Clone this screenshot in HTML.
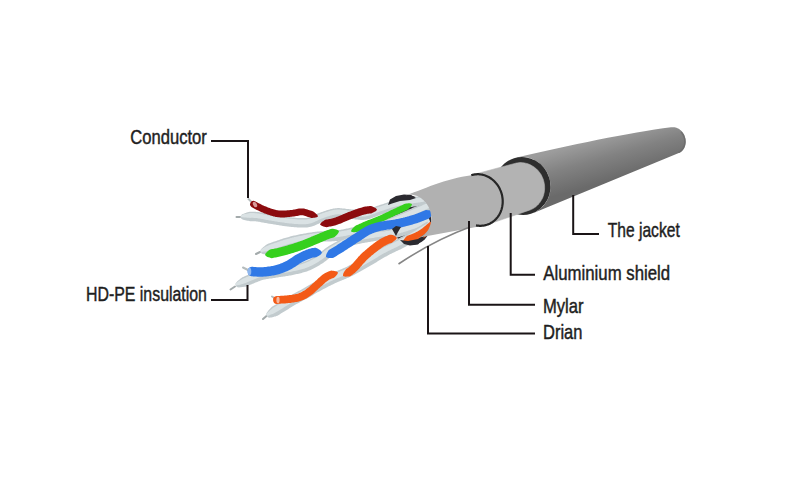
<!DOCTYPE html>
<html><head><meta charset="utf-8">
<style>
html,body{margin:0;padding:0;background:#fff;width:800px;height:480px;overflow:hidden}
svg{display:block}
text{font-family:"Liberation Sans",sans-serif;font-size:20px;fill:#1e1e1e}
</style></head><body>
<svg width="800" height="480" viewBox="0 0 800 480">
<defs>
<linearGradient id="jk" gradientUnits="userSpaceOnUse" x1="600" y1="138" x2="612" y2="180">
<stop offset="0" stop-color="#9c9c9c"/><stop offset="0.45" stop-color="#828282"/><stop offset="1" stop-color="#6a6a6a"/>
</linearGradient>
</defs>
<rect width="800" height="480" fill="#fff"/>
<path d="M516.7,157.6 C568.0,145.5 630.0,132.5 671.0,127.3 L671.0,127.3 L671.6,127.2 L672.2,127.2 L672.8,127.2 L673.4,127.2 L674.0,127.2 L674.6,127.3 L675.2,127.4 L675.8,127.6 L676.4,127.7 L677.0,127.9 L677.5,128.2 L678.1,128.5 L678.7,128.8 L679.2,129.1 L679.7,129.5 L680.2,129.9 L680.7,130.3 L681.2,130.8 L681.7,131.3 L682.1,131.8 L682.5,132.3 L682.9,132.9 L683.3,133.4 L683.7,134.0 L684.0,134.6 L684.3,135.3 L684.6,135.9 L684.8,136.5 L685.0,137.2 L685.2,137.9 L685.4,138.5 L685.5,139.2 L685.6,139.9 L685.6,140.6 L685.7,141.3 L685.7,141.9 L685.7,142.6 L685.6,143.3 L685.5,144.0 L685.4,144.6 L685.2,145.3 L685.1,145.9 L684.9,146.5 L684.6,147.1 L684.4,147.7 L684.1,148.3 L683.8,148.8 L683.4,149.3 L683.0,149.8 L682.7,150.3 L682.2,150.8 L681.8,151.2 L681.4,151.6 L680.9,151.9 L680.4,152.3 L679.9,152.6 L679.3,152.9 L678.8,153.1 L533.4,212.9 L533.4,212.9 L534.7,212.3 L535.9,211.7 L537.2,211.0 L538.4,210.2 L539.5,209.3 L540.6,208.4 L541.7,207.5 L542.7,206.5 L543.7,205.4 L544.6,204.3 L545.5,203.1 L546.2,201.9 L547.0,200.7 L547.6,199.4 L548.3,198.1 L548.8,196.7 L549.3,195.3 L549.7,193.9 L550.0,192.5 L550.2,191.1 L550.4,189.6 L550.5,188.1 L550.6,186.7 L550.6,185.2 L550.5,183.7 L550.3,182.3 L550.0,180.8 L549.7,179.4 L549.3,177.9 L548.9,176.5 L548.3,175.2 L547.7,173.8 L547.1,172.5 L546.4,171.2 L545.6,170.0 L544.7,168.8 L543.8,167.6 L542.9,166.5 L541.8,165.4 L540.8,164.4 L539.7,163.5 L538.5,162.6 L537.3,161.7 L536.1,161.0 L534.8,160.3 L533.5,159.6 L532.2,159.1 L530.9,158.6 L529.5,158.1 L528.1,157.8 L526.7,157.5 L525.3,157.3 L523.8,157.1 L522.4,157.1 L521.0,157.1 L519.5,157.2 L518.1,157.4 L516.7,157.6 Z" fill="url(#jk)"/>
<path d="M681.2,131.9 L681.6,132.4 L682.0,132.9 L682.3,133.4 L682.7,133.9 L683.0,134.5 L683.3,135.0 L683.6,135.6 L683.8,136.2 L684.0,136.8 L684.2,137.4 L684.4,138.0 L684.6,138.7 L684.7,139.3 L684.8,139.9 L684.8,140.6 L684.9,141.2 L684.9,141.8 L684.9,142.5 L684.8,143.1 L684.7,143.7 L684.6,144.3 L684.5,144.9 L684.3,145.5 L684.2,146.1 L683.9,146.7 L683.7,147.2 L683.4,147.8 L683.1,148.3 L682.8,148.8 L682.5,149.3 L682.1,149.7 L681.7,150.1 L681.3,150.5 L680.9,150.9 L680.5,151.3 L680.0,151.6 L679.5,151.9 L679.0,152.1 L678.5,152.4" fill="none" stroke="#6a6a6a" stroke-width="1.6" opacity="0.7"/>
<ellipse cx="522.5" cy="186" rx="28" ry="29" transform="rotate(-17 522.5 186)" fill="#2e2e2e"/>
<path d="M472.1,174.9 L515.0,163.4 L515.0,163.4 L516.2,163.1 L517.3,162.9 L518.5,162.7 L519.7,162.6 L520.9,162.6 L522.1,162.7 L523.3,162.8 L524.4,162.9 L525.6,163.2 L526.8,163.5 L527.9,163.8 L529.0,164.3 L530.2,164.7 L531.2,165.3 L532.3,165.9 L533.3,166.5 L534.3,167.2 L535.3,168.0 L536.3,168.8 L537.1,169.6 L538.0,170.5 L538.8,171.5 L539.6,172.5 L540.3,173.5 L541.0,174.5 L541.6,175.6 L542.1,176.8 L542.6,177.9 L543.1,179.1 L543.5,180.3 L543.8,181.5 L544.1,182.7 L544.3,183.9 L544.5,185.2 L544.6,186.4 L544.6,187.7 L544.6,188.9 L544.5,190.2 L544.4,191.4 L544.2,192.6 L543.9,193.8 L543.6,195.0 L543.2,196.2 L542.8,197.4 L542.3,198.5 L541.7,199.6 L541.1,200.6 L540.5,201.6 L539.8,202.6 L539.0,203.6 L538.2,204.4 L537.4,205.3 L536.5,206.1 L535.6,206.9 L534.6,207.6 L533.6,208.2 L532.6,208.8 L531.5,209.3 L530.5,209.8 L529.4,210.2 L487.3,224.6 L487.3,224.6 L488.4,224.2 L489.5,223.7 L490.6,223.2 L491.6,222.6 L492.7,221.9 L493.6,221.2 L494.6,220.4 L495.5,219.5 L496.3,218.7 L497.1,217.7 L497.9,216.7 L498.6,215.7 L499.3,214.6 L499.9,213.5 L500.4,212.4 L500.9,211.2 L501.4,210.0 L501.7,208.8 L502.1,207.5 L502.3,206.2 L502.5,204.9 L502.6,203.6 L502.7,202.3 L502.7,201.0 L502.7,199.7 L502.6,198.3 L502.4,197.0 L502.1,195.7 L501.8,194.4 L501.5,193.1 L501.1,191.9 L500.6,190.6 L500.0,189.4 L499.4,188.2 L498.8,187.0 L498.1,185.9 L497.4,184.8 L496.6,183.8 L495.7,182.8 L494.8,181.8 L493.9,180.9 L492.9,180.0 L491.9,179.2 L490.9,178.5 L489.8,177.8 L488.7,177.1 L487.6,176.5 L486.5,176.0 L485.3,175.6 L484.1,175.2 L482.9,174.8 L481.7,174.6 L480.5,174.4 L479.3,174.3 L478.1,174.2 L476.9,174.2 L475.6,174.3 L474.4,174.4 L473.3,174.7 L472.1,174.9 Z" fill="#b3b3b3" stroke="#b3b3b3" stroke-width="0.6"/>
<ellipse cx="410" cy="220" rx="21" ry="25" transform="rotate(-17 410 220)" fill="#2b2a30"/>
<path d="M236.5,217.0 L240.0,217.0" stroke="#a3aaab" stroke-width="2" stroke-linecap="round" fill="none"/>
<path d="M241.1,218.4 242.1,219.3 243.2,219.7 244.2,220.0 245.2,220.2 246.3,220.5 247.3,220.7 248.3,220.8 249.2,221.0 250.2,221.2 251.1,221.2 252.0,221.2 252.9,221.2 253.8,221.2 254.7,221.2 255.6,221.3 256.4,221.4 257.3,221.5 258.3,221.7 259.2,221.8 260.1,222.0 261.1,222.2 262.0,222.4 263.0,222.5 264.0,222.7 265.0,222.9 266.0,223.1 267.0,223.3 268.0,223.5 269.1,223.7 270.1,223.8 271.0,224.0 272.0,224.1 273.0,224.3 274.0,224.5 275.0,224.6 276.0,224.8 277.0,225.0 278.0,225.1 279.0,225.3 280.0,225.5 281.0,225.6 282.0,225.8 283.0,225.9 284.0,226.1 285.0,226.2 286.1,226.3 287.1,226.5 288.1,226.6 289.2,226.7 290.2,226.8 291.2,226.9 292.2,227.0 293.2,227.1 294.2,227.2 295.2,227.3 296.3,227.3 297.3,227.4 298.3,227.5 299.4,227.5 300.5,227.6 301.5,227.6 302.6,227.6 303.7,227.6 304.9,227.6 306.0,227.5 307.1,227.4 308.3,227.2 309.5,227.0 310.7,226.8 311.9,226.5 313.1,226.1 314.2,225.7 315.2,225.3 316.3,224.8 317.2,224.3 318.2,223.9 319.1,223.4 320.0,223.0 320.8,222.6 321.6,222.2 322.4,221.9 323.2,221.6 324.1,221.3 325.0,221.0 326.0,220.6 326.9,220.3 327.9,220.0 328.8,219.7 329.7,219.4 330.6,219.1 331.5,218.8 332.3,218.6 333.2,218.3 334.0,218.1 334.9,218.0 335.7,217.8 336.5,217.7 337.3,217.7 338.1,217.6 338.9,217.6 339.8,217.7 340.6,217.7 341.5,217.8 342.5,217.9 343.4,218.0 344.4,218.2 345.4,218.3 346.4,218.4 347.5,218.5 348.5,218.6 349.6,218.7 350.5,218.8 351.4,218.9 352.4,219.0 353.3,219.1 354.3,219.3 355.3,219.4 356.4,219.5 357.4,219.6 358.5,219.8 359.6,219.8 360.8,219.9 361.9,219.9 363.1,219.9 364.3,219.8 365.5,219.7 366.8,219.5 367.9,219.3 369.1,219.0 370.2,218.7 371.3,218.3 372.3,218.0 373.3,217.6 374.3,217.2 375.3,216.8 376.2,216.5 377.1,216.1 378.1,215.7 378.9,215.4 379.8,215.1 380.7,214.8 381.6,214.5 382.5,214.2 383.5,213.8 384.5,213.5 385.5,213.2 386.4,212.9 387.3,212.5 388.3,212.2 389.2,211.9 390.1,211.6 391.0,211.3 392.0,211.0 392.9,210.7 393.8,210.5 394.7,210.2 395.6,210.0 396.5,209.7 397.5,209.5 398.4,209.3 399.3,209.1 400.3,208.9 401.2,208.7 402.2,208.5 403.1,208.3 404.1,208.1 405.0,208.0 406.0,207.8 407.0,207.6 407.9,207.5 408.9,207.3 409.9,207.2 410.9,207.0 411.9,206.9 412.9,206.7 413.8,206.5 414.8,206.4 415.8,206.2 416.8,206.1 417.8,205.9 418.8,205.8 419.8,205.6 420.8,205.5 421.8,205.3 422.8,205.2 423.8,205.0 424.8,204.8 425.8,204.7 L424.2,195.3 423.2,195.5 422.3,195.6 421.3,195.8 420.3,195.9 419.3,196.1 418.3,196.2 417.4,196.4 416.4,196.6 415.4,196.7 414.4,196.9 413.4,197.0 412.4,197.2 411.4,197.3 410.4,197.5 409.4,197.6 408.4,197.8 407.4,197.9 406.4,198.1 405.4,198.3 404.4,198.4 403.4,198.6 402.4,198.8 401.4,199.0 400.4,199.2 399.3,199.4 398.3,199.6 397.3,199.8 396.3,200.0 395.2,200.3 394.2,200.5 393.2,200.8 392.2,201.1 391.2,201.3 390.2,201.6 389.2,201.9 388.2,202.3 387.2,202.6 386.2,202.9 385.2,203.2 384.3,203.5 383.3,203.9 382.4,204.2 381.4,204.5 380.5,204.8 379.6,205.1 378.6,205.5 377.6,205.8 376.6,206.1 375.6,206.5 374.6,206.9 373.7,207.3 372.7,207.6 371.8,208.0 370.9,208.4 370.0,208.7 369.1,209.0 368.3,209.3 367.5,209.6 366.7,209.8 365.9,210.0 365.1,210.2 364.3,210.3 363.6,210.4 362.8,210.4 361.9,210.4 361.1,210.4 360.2,210.4 359.4,210.3 358.4,210.2 357.5,210.1 356.5,210.0 355.6,209.8 354.6,209.7 353.5,209.6 352.5,209.5 351.4,209.4 350.4,209.3 349.4,209.2 348.5,209.1 347.5,209.0 346.6,208.9 345.6,208.7 344.6,208.6 343.5,208.5 342.5,208.4 341.4,208.3 340.3,208.2 339.1,208.1 337.9,208.1 336.7,208.2 335.5,208.3 334.3,208.4 333.2,208.6 332.0,208.9 330.9,209.1 329.8,209.4 328.8,209.7 327.7,210.0 326.7,210.3 325.7,210.7 324.8,211.0 323.8,211.3 322.9,211.7 321.9,212.0 321.0,212.3 320.0,212.7 318.9,213.1 317.8,213.5 316.8,214.0 315.9,214.5 314.9,214.9 314.0,215.3 313.2,215.8 312.3,216.1 311.5,216.5 310.7,216.8 309.9,217.1 309.2,217.4 308.5,217.6 307.7,217.7 306.9,217.9 306.1,218.0 305.3,218.0 304.4,218.1 303.5,218.1 302.6,218.1 301.7,218.1 300.8,218.1 299.9,218.0 298.9,218.0 298.0,217.9 297.0,217.9 296.0,217.8 295.0,217.7 294.1,217.6 293.1,217.5 292.1,217.4 291.1,217.3 290.1,217.2 289.2,217.1 288.2,217.0 287.2,216.9 286.3,216.8 285.3,216.7 284.4,216.5 283.4,216.4 282.4,216.2 281.4,216.1 280.5,215.9 279.5,215.8 278.5,215.6 277.5,215.4 276.5,215.3 275.6,215.1 274.6,214.9 273.6,214.8 272.6,214.6 271.6,214.4 270.6,214.3 269.6,214.1 268.7,214.0 267.7,213.8 266.8,213.6 265.8,213.4 264.8,213.2 263.8,213.0 262.8,212.8 261.8,212.6 260.8,212.5 259.7,212.3 258.7,212.1 257.6,212.0 256.5,211.9 255.3,211.8 254.2,211.7 253.1,211.7 252.0,211.7 250.9,211.7 249.8,211.7 248.8,212.0 247.7,212.3 246.7,212.6 245.7,212.9 244.8,213.3 243.8,213.7 242.8,214.1 241.9,214.6 240.9,215.6 Z" fill="#c2cbce"/>
<path d="M241.0,216.8 242.0,217.2 243.0,217.3 244.0,217.5 245.1,217.6 246.1,217.6 247.1,217.7 248.1,217.8 249.1,217.8 250.1,217.9 251.0,217.8 252.0,217.8 253.0,217.8 254.0,217.9 254.9,217.9 255.9,218.0 256.8,218.1 257.8,218.2 258.8,218.4 259.7,218.5 260.7,218.7 261.7,218.9 262.7,219.1 263.6,219.3 264.6,219.5 265.6,219.7 266.6,219.9 267.6,220.0 268.6,220.2 269.6,220.4 270.6,220.5 271.6,220.7 272.6,220.9 273.5,221.0 274.5,221.2 275.5,221.4 276.5,221.5 277.5,221.7 278.5,221.9 279.5,222.0 280.5,222.2 281.5,222.3 282.5,222.5 283.5,222.6 284.5,222.8 285.5,222.9 286.5,223.0 287.5,223.2 288.5,223.3 289.5,223.4 290.5,223.5 291.5,223.6 292.5,223.7 293.5,223.8 294.5,223.9 295.5,223.9 296.5,224.0 297.5,224.1 298.5,224.2 299.6,224.2 300.6,224.3 301.6,224.3 302.6,224.3 303.7,224.3 304.7,224.2 305.7,224.2 306.8,224.1 307.8,224.0 308.9,223.8 309.9,223.6 311.0,223.3 312.0,222.9 313.0,222.6 313.9,222.2 314.9,221.8 315.8,221.3 316.7,220.9 317.6,220.5 318.5,220.0 319.4,219.6 320.3,219.2 321.2,218.8 322.1,218.5 323.0,218.2 324.0,217.8 324.9,217.5 325.8,217.2 326.8,216.8 327.7,216.5 328.7,216.2 329.6,215.9 330.5,215.6 331.5,215.4 332.4,215.1 333.3,214.9 334.3,214.7 335.2,214.5 336.2,214.4 337.1,214.3 338.0,214.3 339.0,214.3 339.9,214.4 340.9,214.4 341.9,214.5 342.8,214.6 343.8,214.7 344.8,214.9 345.8,215.0 346.8,215.1 347.8,215.2 348.8,215.3 349.8,215.4 350.8,215.5 351.8,215.6 352.8,215.7 353.8,215.8 354.8,216.0 355.8,216.1 356.8,216.2 357.8,216.3 358.8,216.4 359.8,216.5 360.9,216.6 361.9,216.6 363.0,216.6 364.0,216.5 365.1,216.4 366.2,216.3 367.2,216.0 368.2,215.8 369.2,215.5 370.2,215.2 371.2,214.8 372.2,214.5 373.1,214.1 374.1,213.7 375.0,213.4 375.9,213.0 376.8,212.6 377.8,212.3 378.7,212.0 379.6,211.6 380.6,211.3 381.5,211.0 382.5,210.7 383.4,210.4 384.4,210.0 385.3,209.7 386.3,209.4 387.2,209.1 388.2,208.8 389.1,208.4 390.0,208.1 391.0,207.8 391.9,207.6 392.9,207.3 393.8,207.0 394.8,206.7 395.7,206.5 396.7,206.3 397.7,206.0 398.6,205.8 399.6,205.6 400.6,205.4 401.5,205.2 402.5,205.0 403.5,204.9 404.5,204.7 405.4,204.5 406.4,204.4 407.4,204.2 408.4,204.0 409.4,203.9 410.4,203.7 411.4,203.6 412.3,203.4 413.3,203.3 414.3,203.1 415.3,203.0 416.3,202.8 417.3,202.7 418.3,202.5 419.3,202.4 420.3,202.2 421.3,202.0 422.3,201.9 423.2,201.7 424.2,201.6 425.2,201.4 L424.5,196.7 423.5,196.9 422.5,197.0 421.5,197.2 420.5,197.4 419.5,197.5 418.6,197.7 417.6,197.8 416.6,198.0 415.6,198.1 414.6,198.3 413.6,198.4 412.6,198.6 411.6,198.7 410.6,198.9 409.6,199.0 408.6,199.2 407.6,199.3 406.6,199.5 405.6,199.7 404.6,199.8 403.6,200.0 402.6,200.2 401.6,200.4 400.6,200.6 399.6,200.8 398.6,201.0 397.6,201.2 396.6,201.4 395.6,201.6 394.6,201.9 393.6,202.2 392.6,202.4 391.6,202.7 390.6,203.0 389.6,203.3 388.6,203.6 387.6,203.9 386.7,204.2 385.7,204.6 384.7,204.9 383.8,205.2 382.8,205.5 381.9,205.9 381.0,206.2 380.0,206.5 379.1,206.8 378.1,207.1 377.1,207.5 376.1,207.8 375.1,208.2 374.2,208.6 373.2,209.0 372.3,209.3 371.4,209.7 370.5,210.0 369.6,210.4 368.7,210.7 367.9,211.0 367.0,211.2 366.2,211.4 365.3,211.6 364.5,211.7 363.7,211.8 362.8,211.8 361.9,211.9 361.0,211.8 360.1,211.8 359.2,211.7 358.3,211.6 357.3,211.5 356.4,211.4 355.4,211.3 354.4,211.1 353.4,211.0 352.3,210.9 351.3,210.8 350.2,210.7 349.3,210.6 348.3,210.5 347.4,210.4 346.4,210.3 345.4,210.1 344.4,210.0 343.4,209.9 342.3,209.8 341.3,209.7 340.2,209.6 339.1,209.6 338.0,209.6 336.8,209.6 335.7,209.7 334.5,209.8 333.4,210.0 332.3,210.2 331.3,210.5 330.2,210.8 329.2,211.1 328.2,211.4 327.2,211.7 326.2,212.0 325.2,212.3 324.3,212.7 323.3,213.0 322.4,213.3 321.4,213.7 320.4,214.0 319.4,214.4 318.4,214.8 317.4,215.3 316.5,215.7 315.6,216.2 314.7,216.6 313.8,217.0 312.9,217.4 312.1,217.8 311.3,218.2 310.4,218.5 309.6,218.7 308.8,218.9 308.0,219.1 307.1,219.3 306.3,219.4 305.4,219.4 304.5,219.5 303.6,219.5 302.6,219.5 301.7,219.5 300.7,219.5 299.8,219.5 298.8,219.4 297.9,219.4 296.9,219.3 295.9,219.2 294.9,219.1 293.9,219.0 292.9,218.9 291.9,218.8 291.0,218.7 290.0,218.7 289.0,218.6 288.0,218.4 287.1,218.3 286.1,218.2 285.1,218.1 284.2,217.9 283.2,217.8 282.2,217.6 281.2,217.5 280.2,217.3 279.3,217.2 278.3,217.0 277.3,216.8 276.3,216.7 275.3,216.5 274.3,216.3 273.3,216.2 272.3,216.0 271.3,215.8 270.4,215.7 269.4,215.5 268.4,215.4 267.5,215.2 266.5,215.0 265.5,214.8 264.6,214.6 263.6,214.4 262.6,214.2 261.6,214.0 260.5,213.9 259.5,213.7 258.5,213.5 257.4,213.4 256.3,213.3 255.2,213.2 254.1,213.1 253.1,213.1 252.0,213.1 250.9,213.1 249.9,213.1 248.8,213.3 247.8,213.5 246.8,213.7 245.8,213.9 244.8,214.1 243.8,214.3 242.9,214.6 241.9,214.9 240.9,215.3 Z" fill="#dae2e4"/>
<path d="M248.5,199.0 L252.0,202.5" stroke="#b5bcbe" stroke-width="2" stroke-linecap="round" fill="none"/>
<path d="M251.5,207.0 252.3,207.5 253.2,207.9 254.1,208.4 255.0,208.9 255.9,209.4 256.8,209.9 257.7,210.3 258.7,210.8 259.6,211.3 260.6,211.8 261.6,212.2 262.6,212.6 263.6,213.0 264.5,213.4 265.5,213.7 266.5,214.1 267.4,214.4 268.4,214.8 269.4,215.1 270.4,215.5 271.5,215.8 272.5,216.1 273.6,216.4 274.6,216.6 275.7,216.9 276.8,217.1 278.0,217.2 279.1,217.3 280.2,217.4 281.4,217.4 282.5,217.4 283.5,217.4 284.6,217.4 285.7,217.3 286.7,217.2 287.8,217.1 288.8,217.0 289.8,216.9 290.8,216.8 291.8,216.7 292.9,216.6 294.0,216.5 295.1,216.3 296.2,216.1 297.2,215.9 298.2,215.7 299.1,215.5 300.0,215.3 300.8,215.2 301.5,215.2 302.2,215.2 302.9,215.3 303.7,215.5 304.5,215.7 305.3,216.0 306.2,216.3 307.2,216.7 308.2,217.0 309.3,217.3 310.2,217.6 311.2,217.9 312.3,217.9 313.3,217.8 314.4,217.7 315.5,217.6 316.7,217.3 318.0,216.5 L318.0,216.5 317.4,215.1 316.6,214.2 315.8,213.4 314.9,212.7 314.1,212.0 313.2,211.4 312.2,211.1 311.3,210.8 310.4,210.5 309.5,210.2 308.5,209.9 307.5,209.5 306.5,209.2 305.3,208.9 304.1,208.6 302.8,208.4 301.5,208.4 300.2,208.5 299.0,208.6 297.8,208.8 296.8,209.0 295.8,209.2 294.8,209.4 293.9,209.6 293.0,209.8 292.1,209.9 291.2,210.0 290.2,210.1 289.1,210.2 288.1,210.3 287.2,210.3 286.2,210.4 285.2,210.5 284.3,210.6 283.3,210.6 282.4,210.6 281.4,210.6 280.5,210.6 279.6,210.6 278.8,210.5 277.9,210.3 277.0,210.2 276.1,210.0 275.2,209.8 274.3,209.5 273.4,209.3 272.5,209.0 271.6,208.7 270.7,208.4 269.8,208.1 268.8,207.7 267.9,207.4 267.0,207.0 266.0,206.6 265.1,206.3 264.2,205.9 263.4,205.6 262.5,205.2 261.7,204.7 260.8,204.3 260.0,203.8 259.1,203.4 258.2,202.9 257.3,202.4 256.4,201.9 255.5,201.4 254.5,201.0 A3.4,3.4 0 0 0 251.5,207.0 Z" fill="#8c0b0e"/>
<path d="M320.0,224.5 321.2,225.6 322.3,226.0 323.4,226.4 324.5,226.7 325.5,226.9 326.6,227.2 327.6,227.0 328.6,226.8 329.6,226.6 330.6,226.4 331.7,226.2 332.7,226.0 333.8,225.7 334.8,225.5 335.9,225.2 336.9,224.8 337.9,224.5 338.9,224.1 340.0,223.7 340.9,223.4 341.9,223.0 342.9,222.6 343.8,222.1 344.7,221.7 345.7,221.3 346.6,220.9 347.5,220.6 348.4,220.2 349.3,219.8 350.2,219.5 351.1,219.1 352.0,218.8 352.9,218.4 353.9,218.1 354.8,217.7 355.7,217.4 356.7,217.0 357.6,216.7 358.5,216.4 359.5,216.0 360.4,215.7 361.3,215.4 362.2,215.1 363.1,214.9 364.0,214.6 364.9,214.4 365.8,214.2 366.7,214.0 367.5,213.8 368.4,213.7 369.3,213.6 370.2,213.6 371.2,213.5 372.1,213.1 373.1,212.6 374.1,212.1 375.1,211.6 376.1,210.9 377.0,209.5 L377.0,209.5 375.9,208.3 374.9,207.7 373.9,207.2 372.9,206.7 371.9,206.3 370.8,206.0 369.7,206.1 368.6,206.2 367.5,206.3 366.4,206.4 365.3,206.6 364.2,206.8 363.1,207.1 362.0,207.4 361.0,207.7 360.0,208.0 359.0,208.3 358.0,208.6 357.0,209.0 356.0,209.3 355.1,209.6 354.1,210.0 353.2,210.3 352.2,210.7 351.3,211.0 350.3,211.4 349.4,211.7 348.4,212.1 347.4,212.5 346.4,212.9 345.5,213.3 344.5,213.7 343.6,214.1 342.7,214.5 341.7,214.9 340.8,215.3 339.9,215.7 339.0,216.0 338.1,216.4 337.2,216.8 336.4,217.1 335.5,217.4 334.6,217.7 333.7,218.0 332.8,218.2 331.9,218.4 331.0,218.7 330.1,218.9 329.2,219.1 328.2,219.2 327.3,219.4 326.3,219.6 325.3,219.8 324.4,220.3 323.5,220.9 322.5,221.5 321.6,222.2 320.8,223.0 320.0,224.5 Z" fill="#8c0b0e"/>
<path d="M256.0,254.0 L260.0,252.0" stroke="#a3aaab" stroke-width="2" stroke-linecap="round" fill="none"/>
<path d="M261.5,253.5 262.8,254.1 264.0,254.2 265.0,254.2 266.1,254.2 267.2,254.1 268.2,254.1 269.2,254.0 270.3,253.9 271.3,253.8 272.2,253.4 273.1,253.1 274.0,252.7 274.9,252.4 275.9,252.1 276.8,251.8 277.7,251.5 278.7,251.1 279.6,250.8 280.6,250.5 281.5,250.2 282.4,249.9 283.4,249.6 284.3,249.3 285.3,248.9 286.2,248.7 287.1,248.4 288.0,248.1 289.0,247.8 289.9,247.5 290.8,247.3 291.7,247.0 292.7,246.8 293.6,246.5 294.5,246.3 295.4,246.1 296.4,245.8 297.3,245.6 298.3,245.4 299.2,245.2 300.2,245.0 301.2,244.8 302.1,244.6 303.1,244.4 304.0,244.2 305.0,244.0 306.0,243.9 306.9,243.7 307.9,243.5 308.8,243.4 309.8,243.2 310.8,243.0 311.7,242.9 312.7,242.8 313.7,242.6 314.6,242.5 315.6,242.3 316.5,242.2 317.5,242.1 318.4,242.0 319.3,241.9 320.3,241.9 321.2,241.8 322.2,241.7 323.1,241.7 324.1,241.6 325.1,241.6 326.1,241.6 327.1,241.5 328.1,241.5 329.1,241.5 330.1,241.4 331.1,241.4 332.2,241.3 333.2,241.2 334.3,241.2 335.3,241.1 336.4,241.0 337.5,240.9 338.5,240.7 339.6,240.6 340.6,240.4 341.7,240.3 342.7,240.1 343.7,239.9 344.8,239.7 345.8,239.5 346.8,239.3 347.8,239.1 348.8,238.9 349.8,238.7 350.8,238.5 351.8,238.3 352.8,238.0 353.8,237.8 354.8,237.6 355.7,237.4 356.7,237.1 357.7,236.9 358.7,236.7 359.6,236.5 360.6,236.2 361.6,236.0 362.5,235.8 363.5,235.6 364.5,235.4 365.5,235.1 366.5,234.9 367.5,234.7 368.4,234.5 369.4,234.2 370.4,234.0 371.4,233.7 372.4,233.5 373.4,233.3 374.4,233.0 375.4,232.7 376.4,232.5 377.4,232.2 378.4,231.9 379.4,231.7 380.3,231.4 381.3,231.1 382.3,230.8 383.3,230.5 384.3,230.2 385.2,229.9 386.2,229.6 387.2,229.3 388.2,228.9 389.1,228.6 390.1,228.3 391.1,228.0 392.1,227.6 393.0,227.3 394.0,226.9 395.0,226.6 395.9,226.2 396.9,225.9 397.8,225.5 398.8,225.1 399.7,224.8 400.7,224.4 401.6,224.0 402.6,223.6 403.5,223.2 404.5,222.8 405.4,222.5 406.3,222.1 407.3,221.7 408.2,221.3 409.1,220.9 410.1,220.5 411.0,220.1 411.9,219.7 412.8,219.3 413.8,218.9 414.7,218.5 415.6,218.1 416.5,217.7 417.5,217.3 418.4,216.9 419.3,216.4 420.2,216.0 421.1,215.6 422.0,215.2 423.0,214.8 423.9,214.4 424.8,214.0 425.7,213.6 426.6,213.2 427.5,212.8 428.4,212.4 429.4,212.0 430.3,211.6 431.2,211.2 432.1,210.8 L427.9,201.2 427.0,201.6 426.1,202.0 425.1,202.4 424.2,202.8 423.3,203.2 422.4,203.6 421.5,204.0 420.5,204.4 419.6,204.8 418.7,205.2 417.8,205.6 416.9,206.0 416.0,206.4 415.0,206.8 414.1,207.2 413.2,207.6 412.3,208.0 411.4,208.4 410.5,208.9 409.6,209.3 408.7,209.6 407.7,210.0 406.8,210.4 405.9,210.8 405.0,211.2 404.1,211.6 403.2,212.0 402.3,212.4 401.4,212.8 400.5,213.1 399.6,213.5 398.6,213.9 397.7,214.3 396.8,214.6 395.9,215.0 395.0,215.3 394.1,215.7 393.2,216.0 392.2,216.4 391.3,216.7 390.4,217.1 389.5,217.4 388.6,217.7 387.7,218.0 386.7,218.4 385.8,218.7 384.9,219.0 384.0,219.3 383.0,219.6 382.1,219.9 381.2,220.2 380.2,220.4 379.3,220.7 378.3,221.0 377.4,221.3 376.5,221.6 375.5,221.8 374.6,222.1 373.7,222.3 372.7,222.6 371.8,222.8 370.8,223.1 369.9,223.3 368.9,223.5 368.0,223.8 367.0,224.0 366.0,224.2 365.1,224.5 364.1,224.7 363.1,224.9 362.2,225.1 361.2,225.3 360.2,225.6 359.3,225.8 358.3,226.0 357.3,226.2 356.3,226.5 355.3,226.7 354.4,226.9 353.4,227.1 352.4,227.4 351.4,227.6 350.5,227.8 349.5,228.0 348.6,228.2 347.6,228.4 346.6,228.6 345.7,228.8 344.7,229.0 343.8,229.2 342.8,229.4 341.9,229.6 340.9,229.7 340.0,229.9 339.0,230.0 338.1,230.2 337.2,230.3 336.3,230.4 335.3,230.5 334.4,230.6 333.5,230.7 332.5,230.8 331.6,230.8 330.6,230.9 329.6,230.9 328.7,231.0 327.7,231.0 326.7,231.0 325.7,231.1 324.7,231.1 323.6,231.2 322.6,231.2 321.6,231.3 320.5,231.3 319.5,231.4 318.4,231.5 317.4,231.6 316.3,231.7 315.3,231.8 314.2,231.9 313.2,232.1 312.2,232.2 311.2,232.4 310.1,232.5 309.1,232.7 308.1,232.8 307.1,233.0 306.1,233.2 305.1,233.4 304.1,233.5 303.1,233.7 302.1,233.9 301.1,234.1 300.0,234.3 299.0,234.5 298.0,234.7 297.0,234.9 296.0,235.2 295.0,235.4 294.0,235.6 293.0,235.8 292.0,236.1 291.0,236.3 290.0,236.6 289.0,236.9 288.0,237.2 287.0,237.4 286.0,237.7 285.0,238.0 284.0,238.3 283.0,238.6 282.0,239.0 281.1,239.3 280.1,239.6 279.1,239.9 278.2,240.2 277.2,240.6 276.3,240.9 275.3,241.2 274.4,241.5 273.4,241.8 272.4,242.2 271.5,242.5 270.5,242.9 269.5,243.2 268.6,243.6 267.6,243.9 266.7,244.5 265.9,245.1 265.0,245.7 264.2,246.4 263.4,247.0 262.6,247.7 261.8,248.4 261.0,249.3 260.5,250.5 Z" fill="#c2cbce"/>
<path d="M260.9,251.8 262.0,251.9 263.0,251.8 264.1,251.6 265.1,251.4 266.1,251.2 267.0,251.0 268.0,250.8 269.0,250.5 270.0,250.3 270.9,250.0 271.9,249.6 272.8,249.3 273.7,248.9 274.7,248.6 275.6,248.3 276.5,248.0 277.5,247.7 278.4,247.3 279.4,247.0 280.3,246.7 281.3,246.4 282.2,246.1 283.2,245.8 284.1,245.5 285.1,245.1 286.0,244.9 287.0,244.6 287.9,244.3 288.9,244.0 289.8,243.7 290.8,243.5 291.7,243.2 292.7,242.9 293.6,242.7 294.6,242.5 295.6,242.3 296.5,242.0 297.5,241.8 298.5,241.6 299.4,241.4 300.4,241.2 301.4,241.0 302.4,240.8 303.3,240.6 304.3,240.4 305.3,240.3 306.3,240.1 307.3,239.9 308.2,239.7 309.2,239.6 310.2,239.4 311.2,239.3 312.2,239.1 313.1,239.0 314.1,238.8 315.1,238.7 316.1,238.6 317.1,238.5 318.0,238.4 319.0,238.3 320.0,238.2 321.0,238.1 322.0,238.1 323.0,238.0 323.9,238.0 324.9,237.9 325.9,237.9 326.9,237.9 327.9,237.8 328.9,237.8 330.0,237.7 331.0,237.7 332.0,237.6 333.0,237.6 334.0,237.5 335.0,237.4 336.0,237.3 337.1,237.2 338.1,237.1 339.1,236.9 340.1,236.8 341.1,236.6 342.1,236.5 343.1,236.3 344.1,236.1 345.1,235.9 346.1,235.7 347.1,235.5 348.0,235.3 349.0,235.1 350.0,234.9 351.0,234.7 352.0,234.5 353.0,234.2 353.9,234.0 354.9,233.8 355.9,233.6 356.9,233.3 357.8,233.1 358.8,232.9 359.8,232.7 360.8,232.4 361.7,232.2 362.7,232.0 363.7,231.8 364.7,231.6 365.6,231.3 366.6,231.1 367.6,230.9 368.6,230.6 369.6,230.4 370.5,230.2 371.5,229.9 372.5,229.7 373.5,229.4 374.4,229.2 375.4,228.9 376.4,228.7 377.4,228.4 378.3,228.1 379.3,227.8 380.3,227.6 381.2,227.3 382.2,227.0 383.2,226.7 384.1,226.4 385.1,226.1 386.1,225.8 387.0,225.5 388.0,225.1 388.9,224.8 389.9,224.5 390.8,224.2 391.8,223.8 392.7,223.5 393.7,223.1 394.6,222.8 395.6,222.4 396.5,222.1 397.5,221.7 398.4,221.3 399.3,221.0 400.3,220.6 401.2,220.2 402.1,219.8 403.1,219.5 404.0,219.1 404.9,218.7 405.8,218.3 406.8,217.9 407.7,217.5 408.6,217.1 409.5,216.7 410.5,216.3 411.4,215.9 412.3,215.5 413.2,215.1 414.1,214.7 415.1,214.3 416.0,213.9 416.9,213.5 417.8,213.1 418.7,212.7 419.6,212.3 420.6,211.9 421.5,211.5 422.4,211.1 423.3,210.7 424.2,210.3 425.1,209.8 426.0,209.4 427.0,209.0 427.9,208.6 428.8,208.2 429.7,207.8 430.6,207.4 L428.5,202.6 427.6,203.0 426.7,203.4 425.8,203.8 424.9,204.2 423.9,204.6 423.0,205.0 422.1,205.4 421.2,205.9 420.3,206.3 419.3,206.7 418.4,207.1 417.5,207.5 416.6,207.9 415.7,208.3 414.8,208.7 413.9,209.1 412.9,209.5 412.0,209.9 411.1,210.3 410.2,210.7 409.3,211.1 408.4,211.5 407.5,211.9 406.5,212.3 405.6,212.7 404.7,213.1 403.8,213.5 402.9,213.8 402.0,214.2 401.1,214.6 400.1,215.0 399.2,215.3 398.3,215.7 397.4,216.1 396.5,216.4 395.6,216.8 394.6,217.2 393.7,217.5 392.8,217.9 391.9,218.2 390.9,218.5 390.0,218.9 389.1,219.2 388.2,219.5 387.2,219.8 386.3,220.2 385.4,220.5 384.4,220.8 383.5,221.1 382.6,221.4 381.6,221.7 380.7,222.0 379.7,222.2 378.8,222.5 377.8,222.8 376.9,223.1 376.0,223.3 375.0,223.6 374.1,223.9 373.1,224.1 372.2,224.4 371.2,224.6 370.3,224.8 369.3,225.1 368.3,225.3 367.4,225.5 366.4,225.8 365.4,226.0 364.5,226.2 363.5,226.4 362.5,226.7 361.6,226.9 360.6,227.1 359.6,227.3 358.6,227.5 357.6,227.8 356.7,228.0 355.7,228.2 354.7,228.4 353.7,228.7 352.8,228.9 351.8,229.1 350.8,229.3 349.9,229.5 348.9,229.8 347.9,230.0 347.0,230.2 346.0,230.4 345.0,230.6 344.1,230.8 343.1,230.9 342.2,231.1 341.2,231.3 340.2,231.4 339.3,231.6 338.3,231.7 337.4,231.9 336.4,232.0 335.5,232.1 334.5,232.2 333.6,232.3 332.6,232.3 331.7,232.4 330.7,232.4 329.7,232.5 328.7,232.5 327.7,232.6 326.7,232.6 325.7,232.7 324.7,232.7 323.7,232.7 322.7,232.8 321.7,232.8 320.6,232.9 319.6,233.0 318.6,233.0 317.5,233.1 316.5,233.2 315.4,233.4 314.4,233.5 313.4,233.6 312.4,233.8 311.4,233.9 310.4,234.1 309.4,234.2 308.4,234.4 307.4,234.6 306.4,234.7 305.4,234.9 304.4,235.1 303.4,235.3 302.4,235.5 301.4,235.7 300.4,235.9 299.4,236.1 298.4,236.3 297.4,236.5 296.4,236.7 295.4,236.9 294.4,237.1 293.4,237.4 292.4,237.6 291.4,237.9 290.4,238.1 289.4,238.4 288.4,238.7 287.4,239.0 286.4,239.2 285.4,239.5 284.5,239.8 283.5,240.1 282.5,240.5 281.5,240.8 280.6,241.1 279.6,241.4 278.7,241.7 277.7,242.0 276.8,242.4 275.8,242.7 274.9,243.0 273.9,243.3 272.9,243.7 272.0,244.0 271.0,244.3 270.1,244.7 269.1,245.0 268.2,245.4 267.2,245.9 266.4,246.3 265.5,246.8 264.6,247.3 263.7,247.8 262.8,248.3 262.0,248.9 261.1,249.5 260.4,250.3 Z" fill="#dae2e4"/>
<path d="M265.0,255.0 266.3,256.3 267.4,256.9 268.5,257.3 269.6,257.6 270.7,257.9 271.8,258.2 272.8,258.0 273.8,257.8 274.8,257.6 275.8,257.4 276.8,257.2 277.8,257.0 278.9,256.8 279.9,256.5 280.9,256.3 281.9,256.1 283.0,255.8 284.0,255.5 285.0,255.3 286.0,255.0 287.0,254.7 288.0,254.4 289.0,254.1 289.9,253.9 290.9,253.6 291.9,253.3 292.9,253.0 293.9,252.7 294.9,252.3 295.9,252.0 296.8,251.7 297.8,251.4 298.8,251.1 299.8,250.7 300.7,250.4 301.7,250.1 302.7,249.7 303.7,249.3 304.7,249.0 305.7,248.6 306.6,248.2 307.6,247.8 308.5,247.4 309.5,247.1 310.4,246.7 311.4,246.3 312.3,245.9 313.3,245.5 314.2,245.1 315.1,244.7 316.0,244.3 317.0,243.9 317.9,243.6 318.9,243.2 319.8,242.7 320.8,242.3 321.7,241.9 322.6,241.5 323.6,241.1 324.5,240.8 325.4,240.4 326.3,240.0 327.2,239.6 328.1,239.3 329.0,239.0 329.9,238.6 330.8,238.3 331.7,238.0 332.7,237.7 333.6,237.4 334.6,237.1 335.4,236.3 336.2,235.6 337.0,234.7 337.8,233.8 338.5,232.8 339.0,231.0 L339.0,231.0 337.6,229.9 336.4,229.4 335.2,229.2 334.1,228.9 333.0,228.8 331.9,228.7 330.9,229.0 329.9,229.3 328.9,229.7 327.9,230.0 326.9,230.3 325.9,230.7 324.9,231.1 324.0,231.5 323.0,231.9 322.0,232.2 321.0,232.7 320.1,233.1 319.2,233.5 318.2,233.9 317.3,234.3 316.4,234.7 315.5,235.0 314.5,235.4 313.6,235.8 312.7,236.2 311.7,236.6 310.8,237.0 309.9,237.4 308.9,237.8 308.0,238.2 307.1,238.5 306.1,238.9 305.2,239.3 304.3,239.7 303.4,240.0 302.5,240.4 301.6,240.7 300.6,241.1 299.7,241.4 298.8,241.8 297.9,242.1 296.9,242.4 296.0,242.7 295.0,243.0 294.1,243.3 293.2,243.7 292.2,244.0 291.3,244.3 290.3,244.6 289.4,244.8 288.4,245.1 287.4,245.4 286.5,245.7 285.5,246.0 284.6,246.2 283.6,246.5 282.7,246.8 281.7,247.0 280.8,247.3 279.8,247.5 278.9,247.7 277.9,248.0 277.0,248.2 276.0,248.4 275.1,248.6 274.1,248.8 273.1,249.0 272.1,249.1 271.1,249.3 270.2,249.5 269.2,250.1 268.3,250.8 267.4,251.5 266.5,252.4 265.7,253.3 265.0,255.0 Z" fill="#35d01d"/>
<path d="M351.0,231.5 352.4,232.1 353.6,232.2 354.7,232.2 355.8,232.1 356.8,232.0 357.9,231.8 358.8,231.4 359.7,231.0 360.6,230.5 361.5,230.1 362.4,229.7 363.4,229.3 364.3,228.9 365.2,228.5 366.1,228.1 367.0,227.7 367.9,227.3 368.8,226.9 369.7,226.6 370.7,226.2 371.6,225.8 372.5,225.5 373.5,225.1 374.4,224.7 375.4,224.4 376.3,224.0 377.3,223.6 378.3,223.2 379.2,222.9 380.2,222.5 381.1,222.0 382.1,221.6 383.0,221.2 384.0,220.8 384.9,220.4 385.9,219.9 386.8,219.5 387.7,219.1 388.6,218.6 389.6,218.2 390.5,217.8 391.4,217.3 392.3,216.9 393.2,216.4 394.1,216.0 395.0,215.6 395.9,215.1 396.9,214.7 397.8,214.3 398.7,213.9 399.6,213.4 400.5,213.0 401.5,212.6 402.4,212.1 403.3,211.7 404.2,211.3 405.1,210.8 406.0,210.4 407.0,210.0 407.9,209.5 408.7,208.8 409.4,208.1 410.2,207.3 410.9,206.4 411.6,205.4 412.0,204.0 L412.0,204.0 410.6,203.4 409.4,203.3 408.3,203.3 407.2,203.4 406.2,203.5 405.1,203.7 404.2,204.1 403.3,204.5 402.4,204.9 401.4,205.4 400.5,205.8 399.6,206.2 398.7,206.7 397.8,207.1 396.9,207.5 395.9,208.0 395.0,208.4 394.1,208.8 393.2,209.3 392.3,209.7 391.3,210.1 390.4,210.6 389.5,211.0 388.6,211.4 387.7,211.9 386.8,212.3 385.8,212.8 384.9,213.2 384.0,213.6 383.1,214.0 382.2,214.5 381.3,214.9 380.4,215.3 379.5,215.7 378.6,216.1 377.7,216.5 376.8,216.8 375.8,217.2 374.9,217.6 374.0,217.9 373.0,218.3 372.1,218.7 371.2,219.0 370.2,219.4 369.3,219.8 368.3,220.1 367.3,220.5 366.4,220.9 365.4,221.3 364.5,221.7 363.5,222.1 362.6,222.5 361.6,222.9 360.7,223.4 359.7,223.8 358.8,224.2 357.9,224.7 356.9,225.1 356.0,225.5 355.1,226.0 354.3,226.7 353.6,227.5 352.8,228.3 352.1,229.1 351.4,230.1 351.0,231.5 Z" fill="#35d01d"/>
<path d="M230.5,289.5 L235.0,286.5" stroke="#a3aaab" stroke-width="2" stroke-linecap="round" fill="none"/>
<path d="M236.6,286.9 237.9,287.3 239.0,287.4 240.1,287.3 241.1,287.3 242.2,287.1 243.2,287.0 244.2,286.8 245.3,286.7 246.3,286.5 247.2,286.1 248.1,285.7 249.0,285.3 249.9,285.0 250.8,284.6 251.7,284.2 252.6,283.8 253.6,283.4 254.5,283.0 255.5,282.6 256.4,282.3 257.3,281.9 258.1,281.5 259.0,281.2 259.9,280.9 260.7,280.6 261.6,280.3 262.4,280.1 263.3,279.8 264.1,279.6 265.0,279.4 265.9,279.3 266.8,279.1 267.7,278.9 268.7,278.8 269.6,278.6 270.6,278.5 271.6,278.4 272.6,278.2 273.6,278.1 274.6,277.9 275.6,277.8 276.6,277.6 277.6,277.5 278.6,277.3 279.6,277.1 280.6,277.0 281.5,276.8 282.5,276.7 283.5,276.6 284.5,276.4 285.5,276.2 286.5,276.1 287.5,275.9 288.6,275.7 289.6,275.6 290.6,275.4 291.7,275.2 292.7,275.0 293.7,274.8 294.7,274.5 295.7,274.3 296.7,274.1 297.7,273.9 298.7,273.7 299.7,273.4 300.7,273.2 301.7,272.9 302.7,272.6 303.8,272.3 304.8,272.0 305.8,271.7 306.9,271.4 307.9,271.0 309.0,270.6 310.0,270.2 311.0,269.7 312.0,269.3 313.0,268.8 314.0,268.3 314.9,267.8 315.9,267.3 316.8,266.8 317.7,266.3 318.6,265.7 319.5,265.2 320.4,264.6 321.3,264.1 322.2,263.5 323.1,263.0 324.0,262.3 324.9,261.6 325.8,261.0 326.7,260.3 327.5,259.6 328.3,259.0 329.0,258.3 329.8,257.7 330.5,257.1 331.2,256.6 332.0,256.0 332.7,255.5 333.4,255.0 334.1,254.6 334.9,254.1 335.8,253.6 336.6,253.0 337.5,252.5 338.3,252.0 339.2,251.6 340.0,251.1 340.8,250.6 341.7,250.1 342.5,249.7 343.3,249.3 344.2,248.8 345.0,248.4 345.8,248.0 346.7,247.6 347.5,247.3 348.4,246.9 349.2,246.6 350.1,246.3 350.9,246.0 351.8,245.7 352.6,245.4 353.5,245.2 354.4,244.9 355.3,244.7 356.2,244.5 357.2,244.3 358.1,244.1 359.0,243.9 360.0,243.7 360.9,243.5 361.9,243.3 362.9,243.1 363.8,242.9 364.8,242.8 365.8,242.6 366.7,242.4 367.7,242.3 368.7,242.1 369.7,242.0 370.7,241.8 371.7,241.6 372.7,241.5 373.7,241.3 374.7,241.1 375.6,241.0 376.6,240.8 377.5,240.6 378.5,240.5 379.4,240.4 380.3,240.3 381.3,240.2 382.2,240.1 383.2,240.0 384.3,239.9 385.3,239.8 386.3,239.7 387.4,239.6 388.5,239.4 389.5,239.3 390.6,239.1 391.7,238.9 392.7,238.7 393.8,238.4 394.8,238.2 395.8,237.9 396.9,237.7 397.9,237.4 398.9,237.1 399.9,236.9 400.8,236.6 401.8,236.3 402.8,236.0 403.8,235.7 404.8,235.4 405.7,235.1 406.7,234.8 407.7,234.5 408.6,234.2 409.6,233.9 410.6,233.6 411.5,233.3 412.5,233.0 413.4,232.6 414.4,232.3 415.4,232.0 416.3,231.7 417.3,231.4 418.2,231.1 419.2,230.8 420.1,230.5 421.1,230.1 422.0,229.8 423.0,229.5 423.9,229.2 424.9,228.9 425.8,228.6 426.8,228.3 427.7,228.0 428.7,227.7 429.6,227.4 430.6,227.1 431.5,226.8 L428.5,217.2 427.5,217.5 426.6,217.8 425.6,218.1 424.6,218.5 423.7,218.8 422.7,219.1 421.8,219.4 420.8,219.7 419.9,220.0 418.9,220.3 418.0,220.6 417.0,221.0 416.0,221.3 415.1,221.6 414.1,221.9 413.2,222.2 412.2,222.5 411.3,222.8 410.3,223.1 409.4,223.4 408.4,223.8 407.5,224.1 406.6,224.4 405.6,224.7 404.7,225.0 403.7,225.3 402.8,225.6 401.8,225.8 400.9,226.1 399.9,226.4 399.0,226.7 398.1,227.0 397.1,227.2 396.2,227.5 395.3,227.8 394.3,228.0 393.4,228.2 392.5,228.5 391.6,228.7 390.7,228.9 389.8,229.1 388.9,229.2 387.9,229.4 387.0,229.5 386.1,229.6 385.2,229.8 384.2,229.9 383.3,230.0 382.3,230.1 381.3,230.1 380.3,230.2 379.2,230.4 378.2,230.5 377.1,230.6 376.0,230.8 375.0,230.9 374.0,231.1 373.0,231.3 372.0,231.4 371.0,231.6 370.0,231.8 369.1,231.9 368.1,232.1 367.1,232.3 366.1,232.4 365.1,232.6 364.1,232.8 363.1,232.9 362.1,233.1 361.1,233.3 360.1,233.5 359.1,233.7 358.0,233.9 357.0,234.1 356.0,234.3 355.0,234.5 353.9,234.7 352.9,235.0 351.9,235.3 350.8,235.5 349.8,235.8 348.7,236.2 347.7,236.5 346.7,236.9 345.6,237.3 344.6,237.6 343.6,238.1 342.6,238.5 341.6,239.0 340.7,239.4 339.7,239.9 338.7,240.4 337.8,240.9 336.9,241.4 336.0,241.9 335.0,242.4 334.1,242.9 333.2,243.4 332.4,244.0 331.5,244.5 330.6,245.0 329.7,245.5 328.8,246.1 327.9,246.7 327.0,247.3 326.0,248.0 325.2,248.6 324.3,249.3 323.5,250.0 322.7,250.6 321.9,251.3 321.1,251.9 320.4,252.5 319.7,253.1 319.0,253.6 318.3,254.1 317.6,254.6 316.8,255.1 316.0,255.6 315.1,256.1 314.3,256.7 313.5,257.1 312.7,257.6 311.9,258.1 311.1,258.6 310.2,259.0 309.4,259.4 308.6,259.8 307.8,260.2 306.9,260.6 306.1,261.0 305.3,261.3 304.5,261.6 303.6,261.9 302.8,262.2 301.9,262.5 301.0,262.7 300.1,263.0 299.2,263.2 298.3,263.5 297.3,263.7 296.4,263.9 295.4,264.1 294.5,264.3 293.5,264.6 292.6,264.8 291.6,265.0 290.6,265.2 289.7,265.4 288.8,265.6 287.8,265.7 286.9,265.9 285.9,266.1 284.9,266.2 284.0,266.4 283.0,266.5 282.0,266.7 281.0,266.8 280.0,267.0 279.0,267.1 278.0,267.3 277.0,267.4 276.0,267.6 275.1,267.7 274.1,267.9 273.1,268.0 272.2,268.2 271.2,268.3 270.2,268.5 269.2,268.6 268.2,268.7 267.1,268.9 266.1,269.1 265.0,269.2 264.0,269.4 262.9,269.7 261.8,269.9 260.8,270.2 259.7,270.5 258.6,270.8 257.5,271.1 256.5,271.5 255.5,271.8 254.5,272.2 253.5,272.6 252.5,273.0 251.6,273.4 250.7,273.8 249.7,274.2 248.8,274.6 247.9,274.9 247.0,275.3 246.0,275.7 245.1,276.1 244.2,276.5 243.2,276.9 242.3,277.3 241.5,277.9 240.6,278.6 239.8,279.2 239.0,279.9 238.2,280.6 237.4,281.3 236.7,282.0 236.0,282.9 235.4,284.1 Z" fill="#c2cbce"/>
<path d="M235.9,285.3 237.0,285.3 238.0,285.1 239.0,284.9 240.0,284.7 241.0,284.4 242.0,284.1 242.9,283.9 243.9,283.6 244.9,283.3 245.8,282.9 246.7,282.5 247.6,282.1 248.5,281.7 249.5,281.3 250.4,281.0 251.3,280.6 252.2,280.2 253.2,279.8 254.1,279.4 255.0,279.0 255.9,278.7 256.8,278.3 257.8,277.9 258.7,277.6 259.6,277.3 260.5,277.0 261.4,276.7 262.4,276.5 263.3,276.2 264.3,276.0 265.2,275.8 266.2,275.6 267.2,275.5 268.1,275.3 269.1,275.2 270.1,275.0 271.1,274.9 272.1,274.7 273.1,274.6 274.1,274.5 275.1,274.3 276.1,274.2 277.1,274.0 278.1,273.8 279.0,273.7 280.0,273.5 281.0,273.4 282.0,273.2 283.0,273.1 284.0,272.9 285.0,272.8 286.0,272.6 287.0,272.5 288.0,272.3 289.0,272.1 290.0,271.9 291.0,271.7 292.0,271.5 292.9,271.3 293.9,271.1 294.9,270.9 295.9,270.7 296.9,270.5 297.9,270.2 298.9,270.0 299.8,269.8 300.8,269.5 301.8,269.3 302.8,269.0 303.8,268.7 304.8,268.4 305.7,268.1 306.7,267.7 307.7,267.3 308.6,267.0 309.6,266.5 310.5,266.1 311.4,265.7 312.4,265.2 313.3,264.7 314.2,264.3 315.1,263.8 316.0,263.2 316.8,262.7 317.7,262.2 318.6,261.7 319.4,261.1 320.3,260.6 321.1,260.0 322.0,259.5 322.9,258.8 323.7,258.2 324.5,257.6 325.3,256.9 326.0,256.3 326.8,255.6 327.6,255.0 328.3,254.4 329.1,253.8 329.9,253.2 330.7,252.6 331.5,252.1 332.3,251.6 333.1,251.1 334.0,250.6 334.8,250.0 335.7,249.5 336.5,249.0 337.4,248.5 338.3,248.0 339.1,247.5 340.0,247.1 340.9,246.6 341.7,246.1 342.6,245.7 343.5,245.3 344.4,244.8 345.3,244.4 346.2,244.1 347.1,243.7 348.0,243.3 348.9,243.0 349.8,242.7 350.7,242.3 351.6,242.1 352.6,241.8 353.5,241.5 354.5,241.3 355.4,241.1 356.4,240.8 357.4,240.6 358.3,240.4 359.3,240.2 360.3,240.0 361.3,239.9 362.2,239.7 363.2,239.5 364.2,239.3 365.2,239.2 366.2,239.0 367.2,238.8 368.1,238.7 369.1,238.5 370.1,238.3 371.1,238.2 372.1,238.0 373.1,237.9 374.1,237.7 375.1,237.5 376.0,237.3 377.0,237.2 378.0,237.1 379.0,236.9 379.9,236.8 380.9,236.7 381.9,236.6 382.9,236.5 383.9,236.4 384.9,236.3 385.9,236.2 386.9,236.1 388.0,236.0 389.0,235.8 390.0,235.6 391.0,235.4 392.0,235.2 393.0,235.0 394.0,234.8 395.0,234.5 396.0,234.3 396.9,234.0 397.9,233.8 398.9,233.5 399.9,233.2 400.8,232.9 401.8,232.6 402.8,232.4 403.7,232.1 404.7,231.8 405.7,231.5 406.6,231.2 407.6,230.9 408.5,230.6 409.5,230.2 410.4,229.9 411.4,229.6 412.4,229.3 413.3,229.0 414.3,228.7 415.2,228.4 416.2,228.1 417.1,227.8 418.1,227.4 419.0,227.1 420.0,226.8 420.9,226.5 421.9,226.2 422.8,225.9 423.8,225.6 424.7,225.3 425.7,225.0 426.6,224.6 427.6,224.3 428.5,224.0 429.5,223.7 430.5,223.4 L428.9,218.7 428.0,219.0 427.0,219.3 426.1,219.6 425.1,219.9 424.2,220.2 423.2,220.5 422.2,220.8 421.3,221.1 420.3,221.4 419.4,221.8 418.4,222.1 417.5,222.4 416.5,222.7 415.6,223.0 414.6,223.3 413.7,223.6 412.7,223.9 411.8,224.3 410.8,224.6 409.9,224.9 408.9,225.2 408.0,225.5 407.0,225.8 406.1,226.1 405.1,226.4 404.2,226.7 403.2,227.0 402.3,227.3 401.3,227.6 400.4,227.9 399.4,228.1 398.5,228.4 397.5,228.7 396.6,229.0 395.7,229.2 394.7,229.5 393.8,229.7 392.8,229.9 391.9,230.1 391.0,230.3 390.0,230.5 389.1,230.7 388.2,230.9 387.2,231.0 386.3,231.1 385.4,231.2 384.4,231.4 383.4,231.4 382.4,231.5 381.4,231.6 380.4,231.7 379.4,231.8 378.4,232.0 377.3,232.1 376.3,232.2 375.2,232.4 374.2,232.6 373.2,232.8 372.3,232.9 371.3,233.1 370.3,233.2 369.3,233.4 368.3,233.6 367.3,233.7 366.3,233.9 365.3,234.1 364.3,234.2 363.3,234.4 362.3,234.6 361.3,234.8 360.3,234.9 359.3,235.1 358.3,235.3 357.3,235.5 356.3,235.7 355.3,236.0 354.3,236.2 353.3,236.4 352.3,236.7 351.2,237.0 350.2,237.3 349.2,237.6 348.2,237.9 347.2,238.3 346.2,238.7 345.2,239.0 344.2,239.5 343.2,239.9 342.3,240.3 341.3,240.8 340.4,241.2 339.4,241.7 338.5,242.2 337.6,242.7 336.7,243.2 335.8,243.7 334.9,244.2 334.0,244.7 333.1,245.2 332.3,245.8 331.4,246.3 330.5,246.8 329.6,247.4 328.7,247.9 327.8,248.6 326.9,249.2 326.1,249.8 325.2,250.5 324.4,251.1 323.6,251.8 322.8,252.4 322.1,253.1 321.3,253.7 320.6,254.3 319.9,254.8 319.1,255.4 318.4,255.9 317.6,256.4 316.8,256.9 315.9,257.4 315.1,257.9 314.3,258.4 313.4,258.9 312.6,259.4 311.8,259.9 310.9,260.3 310.1,260.8 309.3,261.2 308.4,261.6 307.6,262.0 306.7,262.3 305.8,262.7 305.0,263.0 304.1,263.3 303.2,263.6 302.3,263.9 301.4,264.2 300.5,264.4 299.6,264.7 298.6,264.9 297.7,265.2 296.7,265.4 295.8,265.6 294.8,265.8 293.8,266.0 292.9,266.2 291.9,266.4 290.9,266.6 290.0,266.8 289.0,267.0 288.1,267.2 287.1,267.4 286.2,267.5 285.2,267.7 284.2,267.8 283.2,268.0 282.2,268.1 281.3,268.3 280.3,268.4 279.3,268.6 278.3,268.8 277.3,268.9 276.3,269.1 275.3,269.2 274.3,269.4 273.4,269.5 272.4,269.7 271.4,269.8 270.4,269.9 269.4,270.1 268.4,270.2 267.4,270.4 266.3,270.5 265.3,270.7 264.3,270.9 263.2,271.1 262.2,271.4 261.1,271.6 260.1,271.9 259.0,272.2 258.0,272.5 257.0,272.9 256.0,273.3 255.0,273.6 254.0,274.0 253.1,274.4 252.2,274.8 251.2,275.2 250.3,275.6 249.4,276.0 248.5,276.3 247.6,276.7 246.6,277.1 245.7,277.5 244.7,277.9 243.8,278.3 242.9,278.7 242.0,279.2 241.1,279.7 240.3,280.2 239.4,280.8 238.6,281.3 237.7,281.9 236.9,282.4 236.0,283.1 235.3,283.9 Z" fill="#dae2e4"/>
<path d="M243.0,267.5 L249.0,270.5" stroke="#b5bcbe" stroke-width="2" stroke-linecap="round" fill="none"/>
<path d="M251.2,276.2 252.2,276.3 253.1,276.4 254.1,276.5 255.1,276.6 256.2,276.6 257.3,276.7 258.4,276.8 259.5,276.8 260.7,276.8 261.8,276.8 262.9,276.7 264.0,276.6 265.0,276.5 266.1,276.4 267.1,276.3 268.2,276.2 269.2,276.1 270.3,275.9 271.4,275.8 272.4,275.6 273.5,275.4 274.5,275.2 275.6,275.0 276.7,274.7 277.7,274.5 278.8,274.2 279.9,273.9 280.9,273.5 282.0,273.2 283.0,272.8 284.0,272.5 285.0,272.1 286.1,271.6 287.1,271.2 288.0,270.8 289.0,270.3 290.0,269.8 291.0,269.3 292.0,268.7 293.0,268.1 293.9,267.5 294.8,267.0 295.7,266.4 296.6,265.8 297.4,265.2 298.2,264.7 299.0,264.1 299.8,263.6 300.6,263.1 301.3,262.7 302.1,262.3 302.9,261.8 303.8,261.4 304.6,261.0 305.5,260.6 306.4,260.2 307.2,259.8 308.1,259.4 308.9,259.0 309.8,258.7 310.6,258.4 311.5,258.1 312.3,257.8 313.1,257.6 313.8,257.5 314.5,257.4 315.3,257.3 316.1,257.2 317.0,256.8 317.9,256.2 318.9,255.7 320.0,255.0 321.0,254.2 322.0,252.5 L322.0,252.5 321.0,250.9 320.0,250.1 319.0,249.4 318.0,248.7 316.9,248.2 315.8,247.7 314.6,247.8 313.3,247.9 312.0,248.1 310.8,248.4 309.6,248.7 308.5,249.1 307.5,249.4 306.4,249.8 305.4,250.2 304.4,250.7 303.4,251.1 302.4,251.5 301.4,252.0 300.5,252.4 299.5,252.9 298.6,253.4 297.6,253.9 296.6,254.4 295.6,255.0 294.7,255.6 293.8,256.2 292.9,256.8 292.1,257.4 291.2,257.9 290.4,258.5 289.6,259.0 288.8,259.5 288.0,260.0 287.3,260.5 286.5,260.9 285.7,261.3 284.9,261.7 284.1,262.1 283.2,262.5 282.3,262.9 281.5,263.2 280.6,263.6 279.8,263.9 278.9,264.2 278.0,264.5 277.1,264.8 276.3,265.0 275.4,265.3 274.5,265.5 273.6,265.7 272.7,265.9 271.8,266.1 270.8,266.2 269.9,266.4 268.9,266.5 268.0,266.6 267.0,266.8 266.1,266.9 265.1,267.0 264.2,267.1 263.2,267.2 262.3,267.2 261.4,267.3 260.5,267.3 259.6,267.3 258.7,267.3 257.8,267.2 256.9,267.2 255.9,267.1 254.9,267.0 253.9,266.9 252.8,266.8 251.8,266.8 A4.8,4.8 0 0 0 251.2,276.2 Z" fill="#2f78e6"/>
<path d="M326.0,257.0 327.7,257.8 328.9,258.0 330.1,258.0 331.3,258.0 332.4,257.9 333.5,257.7 334.3,257.2 335.2,256.7 336.1,256.2 336.9,255.7 337.8,255.1 338.7,254.6 339.5,254.1 340.4,253.6 341.3,253.0 342.1,252.5 343.0,251.9 343.9,251.4 344.7,250.8 345.6,250.3 346.4,249.7 347.3,249.2 348.1,248.6 349.0,248.1 349.8,247.5 350.6,247.0 351.5,246.4 352.3,245.9 353.2,245.3 354.0,244.8 354.8,244.2 355.7,243.7 356.5,243.1 357.4,242.6 358.2,242.0 359.0,241.5 359.9,240.9 360.7,240.4 361.5,239.9 362.4,239.3 363.2,238.8 364.1,238.2 365.0,237.6 365.8,237.1 366.6,236.5 367.4,236.0 368.2,235.5 369.0,235.1 369.8,234.6 370.5,234.2 371.3,233.9 372.1,233.5 372.9,233.2 373.7,232.9 374.6,232.6 375.4,232.3 376.3,232.0 377.2,231.8 378.1,231.5 379.0,231.3 380.0,231.1 380.9,230.8 381.9,230.6 382.8,230.4 383.7,230.2 384.6,230.1 385.5,229.9 386.5,229.8 387.4,229.6 388.4,229.5 389.4,229.4 390.4,229.3 391.4,229.1 392.4,229.0 393.4,228.8 394.5,228.7 395.5,228.5 396.5,228.4 397.6,228.2 398.6,228.0 399.7,227.7 400.7,227.5 401.7,227.3 402.7,227.1 403.7,226.8 404.7,226.6 405.7,226.3 406.7,226.1 407.7,225.8 408.7,225.6 409.7,225.3 410.7,225.0 411.7,224.7 412.7,224.4 413.7,224.1 414.7,223.8 415.6,223.5 416.6,223.2 417.6,222.9 418.6,222.5 419.6,222.2 420.6,221.8 421.5,221.4 422.5,221.1 423.5,220.7 424.4,220.3 425.4,219.9 426.3,219.6 427.2,219.2 428.2,218.8 429.1,218.4 429.9,217.6 430.6,216.8 431.3,215.9 432.0,214.9 432.6,213.8 433.0,212.0 L433.0,212.0 431.5,210.9 430.3,210.6 429.1,210.3 427.9,210.2 426.8,210.1 425.7,210.1 424.8,210.5 423.9,210.8 422.9,211.2 422.0,211.6 421.1,212.0 420.2,212.3 419.3,212.7 418.3,213.0 417.4,213.4 416.5,213.7 415.6,214.0 414.7,214.4 413.8,214.7 412.9,215.0 412.0,215.3 411.0,215.5 410.1,215.8 409.2,216.1 408.2,216.4 407.3,216.6 406.3,216.9 405.4,217.1 404.5,217.4 403.5,217.6 402.6,217.9 401.6,218.1 400.7,218.3 399.7,218.5 398.7,218.7 397.8,218.9 396.8,219.1 395.9,219.3 395.0,219.5 394.1,219.7 393.1,219.8 392.2,219.9 391.2,220.1 390.2,220.2 389.2,220.3 388.2,220.5 387.2,220.6 386.2,220.7 385.2,220.9 384.1,221.0 383.1,221.2 382.0,221.4 380.9,221.6 379.9,221.8 378.9,222.1 377.9,222.3 376.9,222.6 375.8,222.8 374.8,223.1 373.8,223.4 372.7,223.7 371.7,224.0 370.6,224.4 369.6,224.8 368.5,225.2 367.5,225.7 366.5,226.2 365.4,226.7 364.5,227.3 363.5,227.9 362.6,228.4 361.7,229.0 360.8,229.6 360.0,230.1 359.2,230.7 358.4,231.2 357.6,231.7 356.7,232.3 355.8,232.8 355.0,233.4 354.1,233.9 353.3,234.5 352.4,235.0 351.6,235.6 350.7,236.1 349.9,236.7 349.1,237.2 348.2,237.8 347.4,238.3 346.5,238.9 345.7,239.4 344.9,240.0 344.0,240.5 343.2,241.1 342.3,241.6 341.5,242.2 340.7,242.7 339.9,243.3 339.0,243.8 338.2,244.3 337.4,244.8 336.5,245.4 335.7,245.9 334.8,246.4 334.0,246.9 333.1,247.4 332.3,248.0 331.4,248.5 330.6,249.0 329.7,249.5 328.8,250.0 328.2,250.9 327.6,251.9 327.0,252.9 326.5,254.0 326.1,255.2 326.0,257.0 Z" fill="#2f78e6"/>
<path d="M263.0,319.0 L266.5,316.0" stroke="#a3aaab" stroke-width="2" stroke-linecap="round" fill="none"/>
<path d="M267.8,317.3 269.2,317.7 270.3,317.6 271.4,317.4 272.4,317.2 273.4,316.9 274.5,316.6 275.5,316.4 276.4,316.1 277.4,315.7 278.3,315.2 279.1,314.7 280.0,314.2 280.8,313.6 281.7,313.1 282.6,312.6 283.4,312.1 284.3,311.5 285.1,311.0 286.0,310.5 286.8,309.9 287.7,309.4 288.5,308.9 289.4,308.3 290.2,307.8 291.1,307.3 291.9,306.8 292.7,306.3 293.6,305.8 294.4,305.3 295.2,304.8 296.1,304.3 296.9,303.8 297.7,303.4 298.6,302.9 299.5,302.4 300.3,302.0 301.2,301.5 302.1,301.0 303.0,300.6 303.9,300.1 304.7,299.6 305.6,299.2 306.6,298.7 307.5,298.2 308.4,297.7 309.3,297.2 310.2,296.7 311.1,296.2 311.9,295.7 312.8,295.2 313.7,294.6 314.6,294.1 315.4,293.6 316.3,293.1 317.1,292.6 318.0,292.1 318.8,291.7 319.7,291.2 320.5,290.7 321.4,290.2 322.2,289.8 323.1,289.3 324.0,288.8 324.8,288.4 325.7,287.9 326.6,287.5 327.5,287.0 328.3,286.6 329.2,286.1 330.1,285.7 331.0,285.3 331.8,284.8 332.7,284.4 333.6,284.0 334.5,283.6 335.4,283.1 336.3,282.7 337.1,282.3 338.0,281.9 338.9,281.6 339.8,281.2 340.7,280.8 341.6,280.4 342.5,280.0 343.5,279.7 344.4,279.3 345.3,278.9 346.3,278.5 347.2,278.1 348.2,277.7 349.1,277.2 350.1,276.8 351.1,276.3 352.0,275.9 352.9,275.4 353.9,274.9 354.8,274.4 355.7,274.0 356.6,273.5 357.5,273.0 358.4,272.5 359.3,272.0 360.2,271.5 361.1,271.0 362.0,270.5 362.9,270.0 363.7,269.5 364.6,269.0 365.5,268.5 366.4,268.0 367.2,267.5 368.1,267.0 369.0,266.5 369.8,266.0 370.7,265.5 371.6,265.0 372.5,264.5 373.4,264.0 374.2,263.4 375.1,262.9 376.0,262.4 376.8,261.9 377.7,261.3 378.6,260.8 379.4,260.3 380.3,259.8 381.1,259.3 381.9,258.8 382.8,258.3 383.6,257.8 384.5,257.3 385.3,256.8 386.2,256.4 387.0,255.9 387.8,255.4 388.7,255.0 389.5,254.6 390.4,254.1 391.3,253.7 392.1,253.3 393.0,252.8 393.9,252.4 394.8,252.0 395.7,251.6 396.6,251.1 397.5,250.7 398.4,250.3 399.4,249.8 400.3,249.4 401.2,248.9 402.1,248.4 403.0,248.0 404.0,247.5 404.9,247.0 405.8,246.5 406.7,246.0 407.6,245.5 408.5,245.0 409.4,244.5 410.3,244.0 411.2,243.5 412.1,243.0 413.0,242.5 413.8,242.0 414.7,241.4 415.6,240.9 416.4,240.4 417.3,239.9 418.2,239.4 419.0,238.8 419.9,238.3 420.8,237.8 421.6,237.3 422.5,236.7 423.3,236.2 424.2,235.7 425.0,235.2 425.9,234.6 426.7,234.1 427.6,233.6 428.4,233.1 429.3,232.6 430.2,232.0 431.0,231.5 431.9,231.0 432.7,230.5 L427.3,221.5 426.4,222.0 425.6,222.5 424.7,223.1 423.8,223.6 423.0,224.1 422.1,224.6 421.3,225.2 420.4,225.7 419.6,226.2 418.7,226.7 417.8,227.3 417.0,227.8 416.1,228.3 415.3,228.8 414.4,229.3 413.6,229.9 412.7,230.4 411.9,230.9 411.0,231.4 410.2,231.9 409.3,232.4 408.5,232.9 407.6,233.4 406.8,233.9 405.9,234.4 405.1,234.9 404.2,235.4 403.4,235.9 402.5,236.4 401.7,236.8 400.8,237.3 400.0,237.7 399.1,238.2 398.3,238.6 397.4,239.1 396.5,239.5 395.7,239.9 394.8,240.4 393.9,240.8 393.0,241.2 392.1,241.6 391.2,242.1 390.3,242.5 389.4,242.9 388.5,243.4 387.5,243.8 386.6,244.3 385.7,244.7 384.8,245.2 383.8,245.7 382.9,246.2 382.0,246.7 381.1,247.2 380.2,247.7 379.3,248.2 378.4,248.7 377.5,249.2 376.6,249.7 375.7,250.3 374.8,250.8 374.0,251.3 373.1,251.8 372.3,252.4 371.4,252.9 370.5,253.4 369.7,253.9 368.9,254.4 368.0,254.9 367.2,255.4 366.3,255.9 365.5,256.4 364.6,256.9 363.7,257.4 362.9,257.9 362.0,258.4 361.1,258.9 360.3,259.4 359.4,259.9 358.5,260.4 357.7,260.9 356.8,261.4 355.9,261.8 355.1,262.3 354.2,262.8 353.4,263.3 352.5,263.8 351.6,264.2 350.8,264.7 349.9,265.1 349.1,265.6 348.2,266.0 347.4,266.4 346.5,266.9 345.7,267.3 344.8,267.7 343.9,268.1 343.0,268.4 342.2,268.8 341.3,269.2 340.4,269.6 339.4,270.0 338.5,270.3 337.6,270.7 336.6,271.1 335.7,271.5 334.7,271.9 333.8,272.3 332.8,272.8 331.9,273.2 330.9,273.6 330.0,274.1 329.1,274.5 328.2,275.0 327.3,275.4 326.3,275.8 325.4,276.3 324.5,276.8 323.6,277.2 322.7,277.7 321.8,278.1 320.9,278.6 320.0,279.1 319.1,279.6 318.2,280.0 317.2,280.5 316.3,281.0 315.4,281.5 314.5,282.0 313.6,282.5 312.7,283.0 311.9,283.5 311.0,284.1 310.1,284.6 309.3,285.1 308.4,285.6 307.5,286.1 306.7,286.6 305.8,287.1 305.0,287.6 304.1,288.0 303.3,288.5 302.4,289.0 301.6,289.4 300.7,289.9 299.8,290.4 299.0,290.8 298.1,291.3 297.2,291.7 296.3,292.2 295.4,292.7 294.5,293.2 293.6,293.7 292.7,294.2 291.8,294.7 290.9,295.2 290.0,295.7 289.1,296.2 288.2,296.7 287.3,297.3 286.4,297.8 285.5,298.3 284.7,298.9 283.8,299.4 283.0,300.0 282.1,300.5 281.3,301.0 280.4,301.6 279.6,302.1 278.7,302.6 277.9,303.1 277.0,303.7 276.2,304.2 275.3,304.7 274.5,305.2 273.6,305.8 272.8,306.3 271.9,306.8 271.2,307.5 270.5,308.3 269.8,309.1 269.1,309.8 268.4,310.6 267.7,311.5 267.1,312.3 266.5,313.3 266.2,314.7 Z" fill="#c2cbce"/>
<path d="M266.9,315.8 268.0,315.7 269.0,315.4 269.9,315.0 270.9,314.6 271.8,314.3 272.7,313.9 273.7,313.4 274.6,313.0 275.5,312.6 276.4,312.1 277.2,311.6 278.1,311.0 278.9,310.5 279.8,310.0 280.6,309.5 281.5,308.9 282.3,308.4 283.2,307.9 284.0,307.3 284.9,306.8 285.7,306.3 286.6,305.7 287.4,305.2 288.3,304.7 289.1,304.2 290.0,303.6 290.8,303.1 291.7,302.6 292.5,302.1 293.4,301.6 294.2,301.1 295.1,300.6 296.0,300.1 296.8,299.7 297.7,299.2 298.6,298.7 299.5,298.3 300.4,297.8 301.3,297.3 302.1,296.9 303.0,296.4 303.9,295.9 304.8,295.4 305.7,295.0 306.6,294.5 307.5,294.0 308.3,293.5 309.2,293.0 310.1,292.5 311.0,292.0 311.8,291.5 312.7,291.0 313.6,290.5 314.4,290.0 315.3,289.5 316.2,289.0 317.0,288.5 317.9,288.0 318.8,287.5 319.6,287.0 320.5,286.5 321.4,286.1 322.2,285.6 323.1,285.1 324.0,284.7 324.9,284.2 325.8,283.8 326.7,283.3 327.6,282.9 328.5,282.4 329.3,282.0 330.2,281.5 331.1,281.1 332.0,280.7 332.9,280.2 333.8,279.8 334.7,279.4 335.6,279.0 336.5,278.6 337.4,278.2 338.4,277.8 339.3,277.4 340.2,277.0 341.1,276.7 342.0,276.3 343.0,275.9 343.9,275.5 344.8,275.1 345.8,274.7 346.7,274.3 347.6,273.9 348.5,273.4 349.5,273.0 350.4,272.6 351.3,272.1 352.2,271.6 353.1,271.2 354.0,270.7 354.9,270.2 355.8,269.8 356.7,269.3 357.5,268.8 358.4,268.3 359.3,267.8 360.2,267.3 361.0,266.8 361.9,266.3 362.8,265.8 363.7,265.3 364.5,264.8 365.4,264.3 366.3,263.8 367.1,263.3 368.0,262.8 368.9,262.3 369.7,261.8 370.6,261.3 371.5,260.8 372.4,260.3 373.2,259.8 374.1,259.2 374.9,258.7 375.8,258.2 376.6,257.7 377.5,257.2 378.4,256.6 379.2,256.1 380.1,255.6 380.9,255.1 381.8,254.6 382.6,254.1 383.5,253.6 384.4,253.1 385.2,252.7 386.1,252.2 387.0,251.7 387.9,251.3 388.7,250.8 389.6,250.4 390.5,250.0 391.4,249.5 392.3,249.1 393.2,248.7 394.1,248.2 395.0,247.8 395.9,247.4 396.8,246.9 397.8,246.5 398.7,246.1 399.6,245.6 400.5,245.2 401.4,244.7 402.3,244.2 403.2,243.8 404.1,243.3 405.0,242.8 405.8,242.3 406.7,241.8 407.6,241.3 408.5,240.8 409.4,240.3 410.2,239.8 411.1,239.3 412.0,238.8 412.8,238.3 413.7,237.8 414.6,237.3 415.4,236.7 416.3,236.2 417.1,235.7 418.0,235.2 418.8,234.6 419.7,234.1 420.6,233.6 421.4,233.1 422.3,232.6 423.1,232.0 424.0,231.5 424.8,231.0 425.7,230.5 426.5,229.9 427.4,229.4 428.2,228.9 429.1,228.4 430.0,227.9 430.8,227.3 L428.1,222.9 427.2,223.4 426.4,223.9 425.5,224.4 424.7,224.9 423.8,225.5 422.9,226.0 422.1,226.5 421.2,227.0 420.4,227.6 419.5,228.1 418.7,228.6 417.8,229.1 417.0,229.6 416.1,230.2 415.3,230.7 414.4,231.2 413.5,231.7 412.7,232.2 411.8,232.8 411.0,233.3 410.1,233.8 409.3,234.3 408.4,234.8 407.6,235.3 406.7,235.8 405.9,236.3 405.0,236.8 404.2,237.3 403.3,237.7 402.4,238.2 401.6,238.7 400.7,239.1 399.9,239.6 399.0,240.0 398.1,240.5 397.2,240.9 396.4,241.3 395.5,241.8 394.6,242.2 393.7,242.6 392.8,243.1 391.9,243.5 391.0,243.9 390.1,244.4 389.1,244.8 388.2,245.2 387.3,245.7 386.4,246.1 385.5,246.6 384.6,247.1 383.6,247.6 382.7,248.1 381.8,248.6 380.9,249.1 380.0,249.6 379.1,250.1 378.3,250.6 377.4,251.1 376.5,251.6 375.7,252.1 374.8,252.7 373.9,253.2 373.1,253.7 372.2,254.2 371.4,254.7 370.5,255.3 369.7,255.8 368.8,256.3 368.0,256.8 367.1,257.3 366.3,257.8 365.4,258.3 364.5,258.8 363.6,259.3 362.8,259.8 361.9,260.3 361.0,260.8 360.2,261.3 359.3,261.7 358.4,262.2 357.6,262.7 356.7,263.2 355.9,263.7 355.0,264.2 354.1,264.7 353.3,265.1 352.4,265.6 351.5,266.1 350.7,266.5 349.8,267.0 348.9,267.4 348.1,267.9 347.2,268.3 346.3,268.7 345.4,269.1 344.6,269.5 343.7,269.9 342.8,270.3 341.9,270.7 341.0,271.0 340.0,271.4 339.1,271.8 338.2,272.2 337.3,272.6 336.3,273.0 335.4,273.4 334.4,273.8 333.5,274.2 332.5,274.6 331.6,275.1 330.7,275.5 329.8,275.9 328.9,276.4 327.9,276.8 327.0,277.3 326.1,277.7 325.2,278.2 324.3,278.6 323.4,279.1 322.5,279.5 321.6,280.0 320.7,280.5 319.8,280.9 318.9,281.4 318.0,281.9 317.1,282.4 316.2,282.9 315.3,283.4 314.4,283.9 313.5,284.4 312.7,284.9 311.8,285.4 310.9,285.9 310.1,286.4 309.2,286.9 308.3,287.4 307.5,287.9 306.6,288.4 305.8,288.9 304.9,289.4 304.0,289.9 303.2,290.4 302.3,290.8 301.5,291.3 300.6,291.8 299.7,292.2 298.8,292.7 297.9,293.1 297.0,293.6 296.1,294.1 295.2,294.6 294.3,295.0 293.4,295.5 292.5,296.0 291.6,296.5 290.8,297.1 289.9,297.6 289.0,298.1 288.1,298.6 287.2,299.2 286.4,299.7 285.5,300.2 284.7,300.8 283.8,301.3 282.9,301.8 282.1,302.4 281.3,302.9 280.4,303.4 279.6,303.9 278.7,304.5 277.9,305.0 277.0,305.5 276.2,306.0 275.3,306.6 274.5,307.1 273.6,307.6 272.8,308.1 272.0,308.8 271.2,309.4 270.4,310.1 269.6,310.7 268.9,311.4 268.1,312.0 267.4,312.7 266.6,313.5 266.0,314.4 Z" fill="#dae2e4"/>
<path d="M272.0,296.5 L276.0,299.0" stroke="#b5bcbe" stroke-width="2" stroke-linecap="round" fill="none"/>
<path d="M277.3,303.9 278.3,303.8 279.3,303.8 280.2,303.7 281.2,303.6 282.2,303.6 283.2,303.5 284.3,303.4 285.3,303.4 286.3,303.3 287.3,303.2 288.4,303.1 289.4,303.0 290.5,302.9 291.5,302.7 292.5,302.6 293.5,302.5 294.5,302.3 295.6,302.1 296.7,301.9 297.8,301.7 298.9,301.4 300.0,301.1 301.1,300.8 302.2,300.3 303.2,299.9 304.2,299.4 305.2,298.9 306.2,298.4 307.2,297.9 308.1,297.3 309.0,296.7 309.9,296.1 310.8,295.5 311.7,294.8 312.6,294.2 313.5,293.4 314.3,292.7 315.1,292.0 315.8,291.3 316.6,290.6 317.3,289.9 318.0,289.2 318.7,288.6 319.4,287.9 320.2,287.3 320.9,286.6 321.7,285.9 322.5,285.2 323.2,284.5 323.9,283.9 324.6,283.2 325.3,282.6 326.0,282.0 326.7,281.4 327.4,280.9 328.1,280.4 328.7,280.0 329.4,279.6 330.2,279.3 330.9,278.9 331.7,278.6 332.6,278.3 333.5,278.0 334.3,277.4 335.1,276.7 335.9,275.9 336.7,275.1 337.5,274.1 338.0,272.5 L338.0,272.5 336.6,271.6 335.5,271.2 334.4,271.0 333.3,270.8 332.2,270.7 331.1,270.6 330.1,270.9 329.0,271.3 328.0,271.7 326.9,272.2 325.8,272.7 324.8,273.3 323.7,273.9 322.8,274.6 321.9,275.3 321.0,276.0 320.2,276.7 319.4,277.4 318.6,278.1 317.9,278.8 317.2,279.5 316.5,280.2 315.7,280.8 315.0,281.5 314.2,282.2 313.4,282.9 312.7,283.6 312.0,284.3 311.2,284.9 310.5,285.6 309.8,286.3 309.1,286.9 308.4,287.5 307.7,288.1 307.0,288.6 306.3,289.1 305.5,289.7 304.8,290.2 304.0,290.7 303.2,291.1 302.5,291.6 301.7,292.0 300.9,292.4 300.1,292.8 299.3,293.1 298.5,293.4 297.7,293.7 296.9,293.9 296.0,294.1 295.2,294.3 294.3,294.5 293.4,294.6 292.4,294.7 291.4,294.9 290.5,295.0 289.5,295.1 288.5,295.2 287.6,295.3 286.7,295.4 285.7,295.5 284.7,295.6 283.7,295.7 282.7,295.7 281.8,295.8 280.8,295.8 279.7,295.9 278.7,296.0 277.7,296.0 276.7,296.1 A3.9,3.9 0 0 0 277.3,303.9 Z" fill="#f35a17"/>
<path d="M343.0,276.0 344.6,276.6 345.8,276.7 347.0,276.6 348.1,276.6 349.2,276.4 350.3,276.2 351.2,275.6 352.1,274.9 353.0,274.3 353.9,273.6 354.8,272.9 355.7,272.1 356.5,271.3 357.3,270.6 358.0,269.8 358.8,269.0 359.5,268.2 360.1,267.4 360.8,266.6 361.5,265.9 362.1,265.1 362.8,264.3 363.4,263.6 364.1,262.9 364.7,262.2 365.4,261.5 366.0,260.8 366.7,260.1 367.3,259.5 368.0,258.8 368.7,258.2 369.4,257.5 370.2,256.9 370.9,256.3 371.6,255.6 372.4,255.0 373.1,254.4 373.9,253.7 374.7,253.1 375.4,252.5 376.2,251.9 377.0,251.3 377.8,250.7 378.5,250.1 379.3,249.5 380.1,248.9 380.9,248.4 381.7,247.8 382.5,247.3 383.2,246.8 384.0,246.3 384.8,245.8 385.6,245.4 386.4,245.0 387.2,244.6 388.0,244.2 388.8,243.8 389.6,243.5 390.5,243.2 391.3,242.9 392.1,242.7 392.7,242.1 393.4,241.5 394.2,240.9 395.1,240.3 396.1,239.5 397.0,238.0 L397.0,238.0 395.9,236.7 394.9,236.0 393.8,235.5 392.6,235.1 391.3,234.8 389.9,234.7 388.8,235.1 387.7,235.5 386.7,235.9 385.7,236.3 384.6,236.7 383.6,237.2 382.6,237.7 381.6,238.2 380.7,238.7 379.7,239.3 378.8,239.9 377.9,240.5 377.0,241.1 376.1,241.7 375.3,242.3 374.4,242.9 373.6,243.6 372.8,244.2 372.0,244.8 371.1,245.4 370.3,246.1 369.5,246.7 368.7,247.4 367.9,248.0 367.1,248.7 366.3,249.4 365.6,250.0 364.8,250.7 364.0,251.4 363.2,252.1 362.4,252.8 361.6,253.5 360.9,254.3 360.1,255.1 359.4,255.9 358.6,256.6 357.9,257.4 357.3,258.2 356.6,259.0 355.9,259.8 355.3,260.5 354.6,261.3 354.0,262.0 353.3,262.8 352.7,263.5 352.0,264.2 351.4,264.8 350.8,265.5 350.1,266.1 349.5,266.6 348.8,267.2 348.1,267.7 347.4,268.3 346.6,268.8 345.9,269.3 345.3,270.2 344.7,271.1 344.1,272.0 343.5,273.1 343.1,274.3 343.0,276.0 Z" fill="#f35a17"/>
<path d="M403.0,242.0 404.5,243.0 405.7,243.3 406.9,243.5 408.0,243.7 409.1,243.8 410.2,243.8 411.2,243.4 412.1,243.1 413.1,242.7 414.1,242.3 415.1,241.9 416.1,241.5 417.1,241.1 418.1,240.7 419.1,240.2 420.1,239.7 421.1,239.2 422.1,238.7 423.1,238.1 424.1,237.5 425.0,236.9 426.0,236.2 426.9,235.5 427.7,234.9 428.6,234.2 429.4,233.5 430.2,232.8 431.0,232.2 431.8,231.5 432.6,230.8 433.3,230.2 434.1,229.6 434.8,229.0 435.6,228.3 L430.4,221.7 429.5,222.3 428.7,223.0 427.9,223.7 427.1,224.3 426.3,225.0 425.5,225.7 424.7,226.3 424.0,227.0 423.2,227.6 422.5,228.2 421.7,228.8 421.0,229.3 420.2,229.8 419.5,230.3 418.7,230.8 417.9,231.3 417.1,231.7 416.3,232.1 415.5,232.5 414.6,232.9 413.8,233.3 412.9,233.7 412.0,234.0 411.0,234.4 410.1,234.8 409.2,235.1 408.2,235.5 407.3,235.8 406.4,236.5 405.6,237.3 404.9,238.2 404.1,239.2 403.4,240.3 403.0,242.0 Z" fill="#f35a17"/>
<ellipse cx="255" cy="204.5" rx="1.8" ry="3" transform="rotate(-30 255 204.5)" fill="#d89a9a"/>
<ellipse cx="249.5" cy="271.5" rx="1.8" ry="3.8" fill="#8db6ee"/>
<ellipse cx="278" cy="300" rx="1.6" ry="3.2" fill="#f7b8a0"/>
<path d="M388,205 L390,199.5 L396,196 L404,194.4 L411,195 L416,198 L410,200 L400,201 L392,203.5 Z M400,240 L404,244 L410,245.5 L418,244.5 L423,239 L425,234 L418,239 L408,241 Z M392,229 L396,226 L401,227 L398,232 L396,236 Z" fill="#2b2a30"/>
<path d="M405.5,195.5 C420.0,190.5 447.0,178.0 471.3,175.2 L471.3,175.2 L472.5,174.8 L473.7,174.6 L474.9,174.4 L476.1,174.3 L477.3,174.2 L478.5,174.2 L479.8,174.3 L481.0,174.5 L482.2,174.7 L483.4,175.0 L484.6,175.3 L485.8,175.7 L486.9,176.2 L488.1,176.8 L489.2,177.4 L490.3,178.0 L491.3,178.8 L492.4,179.6 L493.4,180.4 L494.3,181.3 L495.2,182.2 L496.1,183.2 L496.9,184.2 L497.7,185.3 L498.4,186.4 L499.1,187.6 L499.7,188.7 L500.3,190.0 L500.8,191.2 L501.3,192.5 L501.7,193.7 L502.0,195.0 L502.3,196.3 L502.5,197.7 L502.6,199.0 L502.7,200.3 L502.7,201.6 L502.7,203.0 L502.6,204.3 L502.4,205.6 L502.2,206.9 L501.9,208.2 L501.5,209.4 L501.1,210.6 L500.7,211.8 L500.1,213.0 L499.6,214.1 L498.9,215.2 L498.2,216.3 L497.5,217.3 L496.7,218.2 L495.9,219.2 L495.0,220.0 L494.1,220.8 L493.1,221.6 L492.1,222.3 L491.1,222.9 L490.0,223.5 L488.9,224.0 L487.8,224.5 L486.6,224.9 L485.4,225.2 L484.3,225.4 L416.6,238.0 L416.6,238.0 L417.6,237.8 L418.5,237.5 L419.4,237.2 L420.4,236.8 L421.2,236.4 L422.1,235.9 L422.9,235.4 L423.7,234.8 L424.5,234.2 L425.2,233.5 L425.9,232.8 L426.6,232.0 L427.2,231.2 L427.8,230.4 L428.4,229.5 L428.9,228.6 L429.3,227.6 L429.7,226.6 L430.1,225.6 L430.4,224.6 L430.7,223.6 L430.9,222.5 L431.1,221.4 L431.2,220.3 L431.3,219.2 L431.3,218.1 L431.2,217.0 L431.2,215.8 L431.0,214.7 L430.8,213.6 L430.6,212.5 L430.3,211.4 L430.0,210.3 L429.6,209.3 L429.2,208.2 L428.7,207.2 L428.2,206.2 L427.6,205.2 L427.0,204.3 L426.4,203.4 L425.7,202.5 L425.0,201.7 L424.2,200.9 L423.4,200.1 L422.6,199.4 L421.8,198.7 L420.9,198.1 L420.0,197.5 L419.1,197.0 L418.2,196.5 L417.2,196.1 L416.3,195.7 L415.3,195.4 L414.3,195.2 L413.3,195.0 L412.3,194.8 L411.3,194.8 L410.4,194.7 L409.4,194.8 L408.4,194.9 L407.4,195.0 L406.5,195.2 L405.5,195.5 Z" fill="#b1b1b1"/>
<path d="M471.3,175.2 L472.5,174.8 L473.7,174.6 L474.9,174.4 L476.1,174.3 L477.3,174.2 L478.5,174.2 L479.7,174.3 L481.0,174.5 L482.2,174.7 L483.4,175.0 L484.6,175.3 L485.7,175.7 L486.9,176.2 L488.0,176.7 L489.1,177.3 L490.2,178.0 L491.3,178.7 L492.3,179.5 L493.3,180.3 L494.3,181.2 L495.2,182.2 L496.0,183.1 L496.9,184.2 L497.6,185.2 L498.4,186.3 L499.1,187.5 L499.7,188.6 L500.2,189.9 L500.8,191.1 L501.2,192.3 L501.6,193.6 L502.0,194.9 L502.2,196.2 L502.4,197.5 L502.6,198.8 L502.7,200.2 L502.7,201.5 L502.7,202.8 L502.6,204.1 L502.4,205.4 L502.2,206.7 L501.9,208.0 L501.6,209.2 L501.2,210.5 L500.7,211.7 L500.2,212.8 L499.6,214.0 L499.0,215.1 L498.3,216.1 L497.6,217.1 L496.8,218.1 L496.0,219.0 L495.1,219.9 L494.2,220.7 L493.3,221.5 L492.3,222.2 L491.2,222.8 L490.2,223.4 L489.1,223.9 L488.0,224.4 L486.8,224.8 L485.7,225.1 L484.5,225.4 L483.3,225.6 L482.1,225.7 L480.9,225.8 L479.7,225.8 L478.4,225.7 L477.2,225.6 L476.0,225.4" fill="none" stroke="#262626" stroke-width="2.2"/>
<path d="M398.5,264 C415,253 440,238 470,227" fill="none" stroke="#858585" stroke-width="1.6"/>
<g fill="none" stroke="#1a1416" stroke-width="2">
<path d="M211,141 H248 V198"/>
<path d="M211,300 H247.5 V285"/>
<path d="M573.2,195 V234 H599"/>
<path d="M510.7,213 V274.8 H535"/>
<path d="M469,221 V304.8 H535"/>
<path d="M428,246 V333.5 H535"/>
</g>
<g stroke="#1e1e1e" stroke-width="0.45">
<text transform="translate(130.3 143.6) scale(0.83 1)">Conductor</text>
<text transform="translate(86 301.3) scale(0.795 1)">HD-PE insulation</text>
<text transform="translate(607.8 237) scale(0.78 1)">The jacket</text>
<text transform="translate(543.3 280) scale(0.84 1)">Aluminium shield</text>
<text transform="translate(543 312.6) scale(0.83 1)">Mylar</text>
<text transform="translate(543 339) scale(0.825 1)">Drian</text>
</g>
</svg>
</body></html>
